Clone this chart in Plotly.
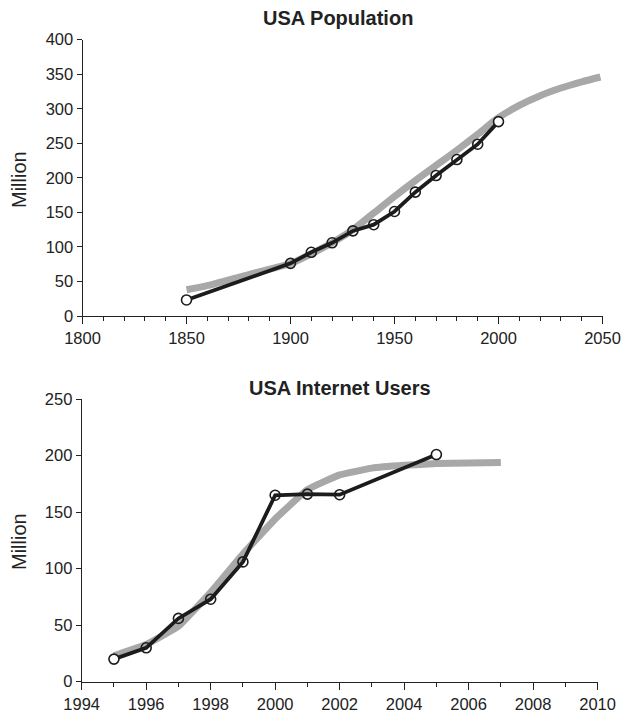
import plotly.graph_objects as go

# ---- Data: USA population (million) ----
pop_years = [1850, 1900, 1910, 1920, 1930, 1940, 1950, 1960, 1970, 1980, 1990, 2000]
pop_values = [23.2, 76.2, 92.2, 106.0, 123.2, 132.2, 151.3, 179.3, 203.3, 226.5, 248.7, 281.4]

pop_fit_years = [1850, 1860, 1870, 1880, 1890, 1900, 1910, 1920, 1930, 1940, 1950,
                 1960, 1970, 1980, 1990, 2000, 2010, 2020, 2030, 2040, 2049]
pop_fit_values = [38, 44, 52, 60, 68, 76, 90, 106, 125, 149, 173,
                  196, 218, 240, 263, 287, 305, 319, 330, 339, 346]

# ---- Data: USA internet users (million) ----
net_years = [1995, 1996, 1997, 1998, 1999, 2000, 2001, 2002, 2005]
net_values = [20, 30, 56, 73, 106, 165, 166, 165.5, 201]

net_fit_years = [1995, 1996, 1997, 1998, 1999, 2000, 2001, 2002, 2003, 2004, 2005, 2006, 2007]
net_fit_values = [23, 33, 49, 79, 113, 144, 170, 183, 189, 191.5, 193, 193.5, 194]

GRAY = "#a8a8a8"
BLACK = "#1c1c1c"
FONT = "Liberation Sans, Arial, sans-serif"

W, H = 623, 713

def fills(n):
    return ["white" if i in (0, n - 1) else "rgba(0,0,0,0)" for i in range(n)]

fig = go.Figure()

# top chart
fig.add_trace(go.Scatter(x=pop_fit_years, y=pop_fit_values, mode="lines",
                         line=dict(color=GRAY, width=7, shape="spline", smoothing=0.8),
                         xaxis="x", yaxis="y", hoverinfo="skip", showlegend=False))
fig.add_trace(go.Scatter(x=pop_years, y=pop_values, mode="lines+markers",
                         line=dict(color=BLACK, width=3.8),
                         marker=dict(size=10, color=fills(len(pop_years)),
                                     line=dict(color=BLACK, width=1.6)),
                         xaxis="x", yaxis="y", showlegend=False))

# bottom chart
fig.add_trace(go.Scatter(x=net_fit_years, y=net_fit_values, mode="lines",
                         line=dict(color=GRAY, width=7, shape="spline", smoothing=0.3),
                         xaxis="x2", yaxis="y2", hoverinfo="skip", showlegend=False))
fig.add_trace(go.Scatter(x=net_years, y=net_values, mode="lines+markers",
                         line=dict(color=BLACK, width=3.8),
                         marker=dict(size=10, color=fills(len(net_years)),
                                     line=dict(color=BLACK, width=1.6)),
                         xaxis="x2", yaxis="y2", showlegend=False))

def px_x(p):
    return p / W

def px_y(p):
    return 1 - p / H

axis_common = dict(showgrid=False, zeroline=False, showline=True, linecolor="#222",
                   linewidth=1, ticks="outside", tickcolor="#222", tickwidth=1,
                   tickfont=dict(family=FONT, size=16.5, color="#222"), automargin=False)

fig.update_layout(
    width=W, height=H,
    margin=dict(l=0, r=0, t=0, b=0),
    paper_bgcolor="white", plot_bgcolor="white",
    font=dict(family=FONT, color="#222"),
    xaxis=dict(domain=[px_x(82.5), px_x(602.5)], range=[1800, 2050], anchor="y",
               tick0=1800, dtick=50, ticklen=7,
               minor=dict(dtick=10, tick0=1800, ticks="outside", ticklen=4,
                          tickcolor="#222", tickwidth=1),
               **axis_common),
    yaxis=dict(domain=[px_y(316), px_y(39.7)], range=[0, 400], anchor="x",
               tick0=0, dtick=50, ticklen=5, **axis_common),
    xaxis2=dict(domain=[px_x(81.7), px_x(597.6)], range=[1994, 2010], anchor="y2",
                tick0=1994, dtick=2, ticklen=7,
                minor=dict(dtick=1, tick0=1994, ticks="outside", ticklen=4,
                           tickcolor="#222", tickwidth=1),
                **axis_common),
    yaxis2=dict(domain=[px_y(681.7), px_y(399.2)], range=[0, 250], anchor="x2",
                tick0=0, dtick=50, ticklen=5, **axis_common),
    annotations=[
        dict(text="<b>USA Population</b>", x=px_x(338), y=px_y(18), xref="paper", yref="paper",
             showarrow=False, font=dict(family=FONT, size=20, color="#222"),
             xanchor="center", yanchor="middle"),
        dict(text="<b>USA Internet Users</b>", x=px_x(340), y=px_y(388), xref="paper", yref="paper",
             showarrow=False, font=dict(family=FONT, size=20, color="#222"),
             xanchor="center", yanchor="middle"),
        dict(text="Million", x=px_x(19), y=px_y(180), xref="paper", yref="paper",
             showarrow=False, textangle=-90, font=dict(family=FONT, size=20, color="#222"),
             xanchor="center", yanchor="middle"),
        dict(text="Million", x=px_x(19), y=px_y(542), xref="paper", yref="paper",
             showarrow=False, textangle=-90, font=dict(family=FONT, size=20, color="#222"),
             xanchor="center", yanchor="middle"),
    ],
)

fig.write_html("out.html", config={"displayModeBar": False},
               post_script="document.body.style.margin='0';document.body.style.overflow='hidden';")
